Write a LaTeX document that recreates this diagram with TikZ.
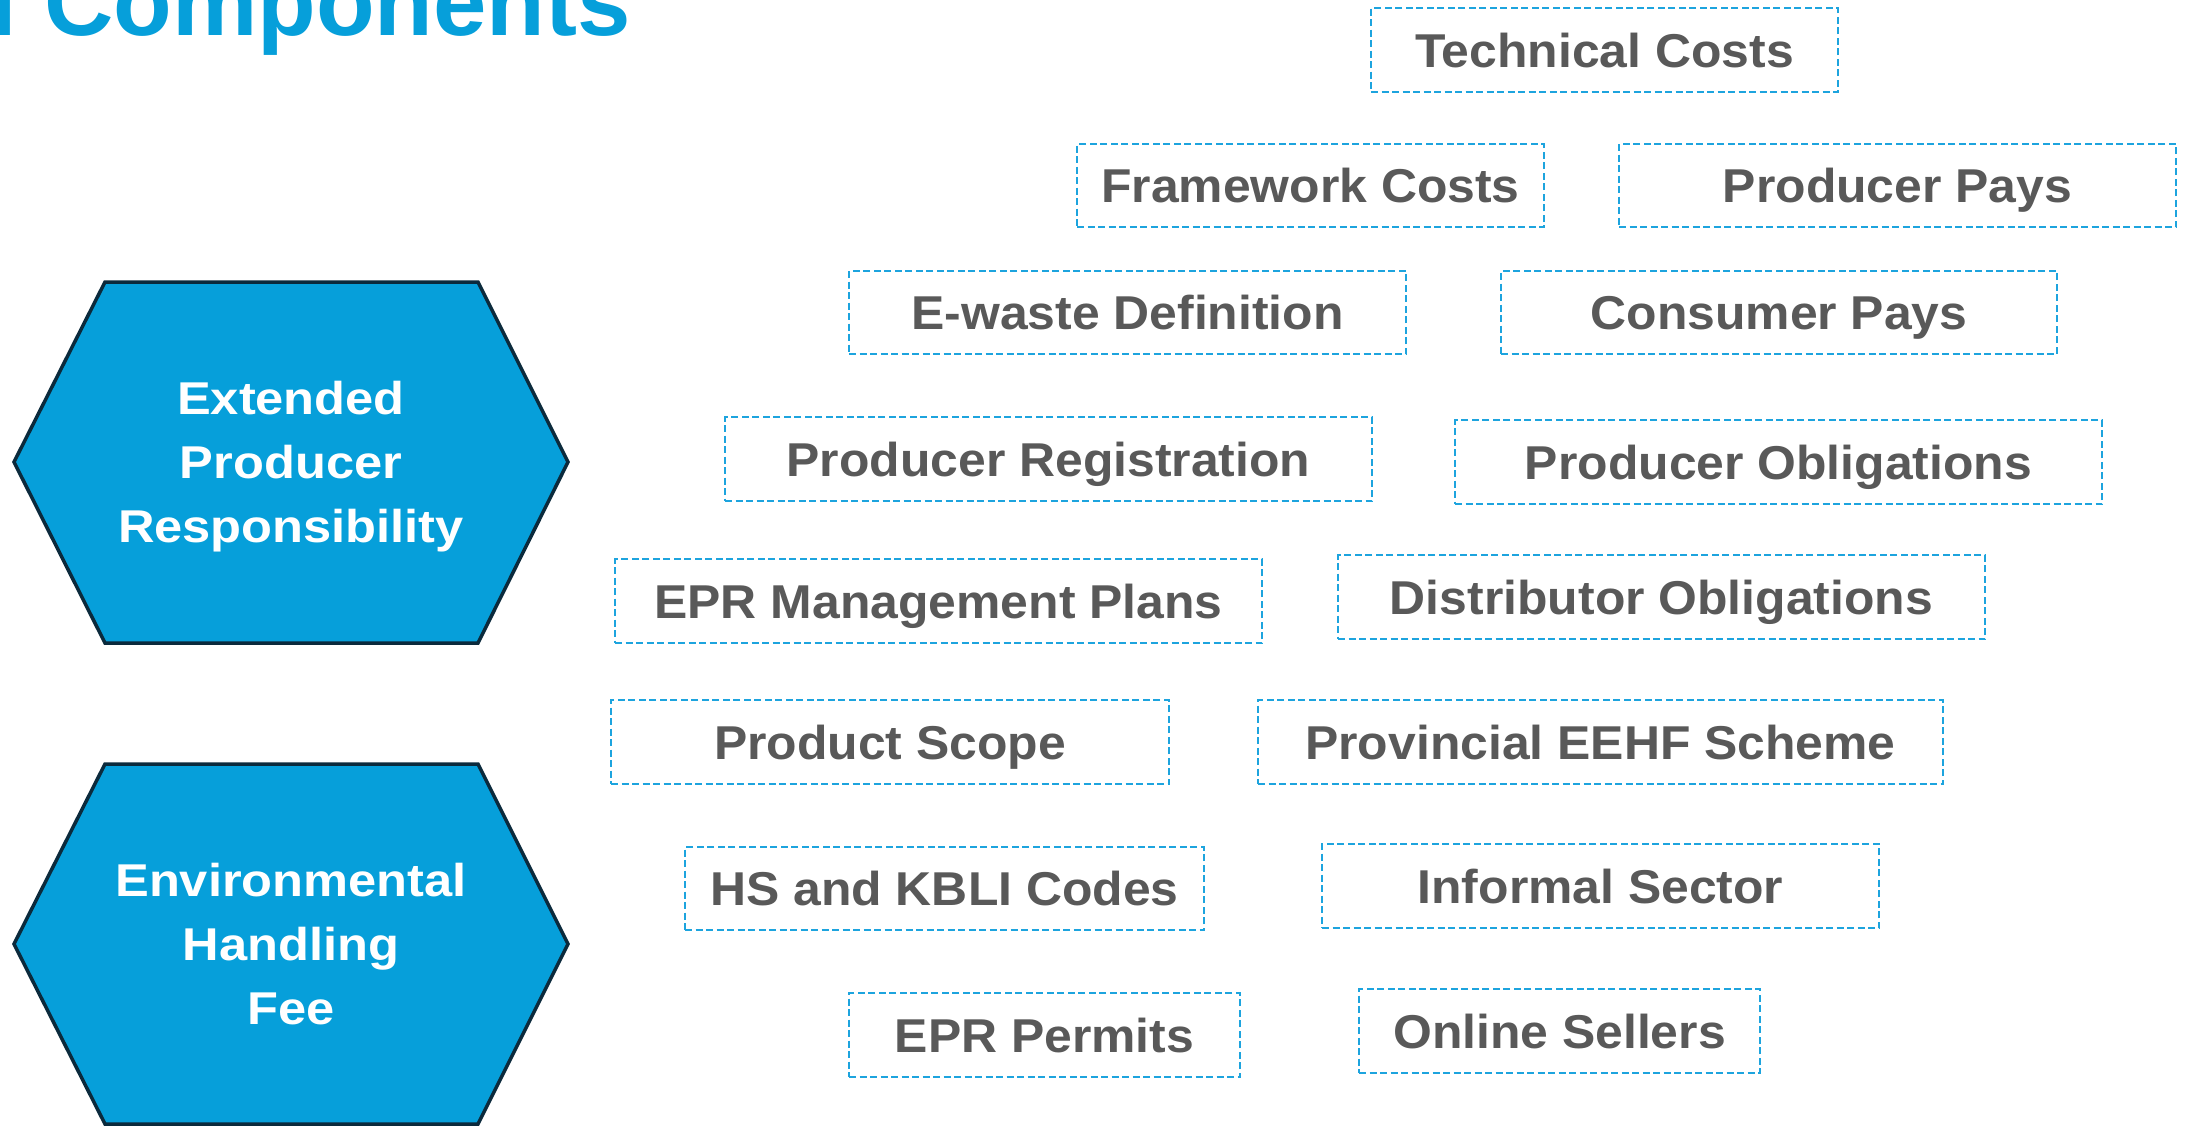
\documentclass[tikz,border=0pt]{standalone}
\usepackage{fontspec}
\newfontfamily\boxfont[FakeStretch=1.05]{Liberation Sans}
\newfontfamily\hexfont[FakeStretch=1.1]{Liberation Sans}
\newfontfamily\titlefont{Liberation Sans}
\definecolor{hexblue}{HTML}{069FDA}
\definecolor{hexborder}{HTML}{0B2A3C}
\definecolor{boxline}{HTML}{1DA4DE}
\definecolor{textgray}{HTML}{595959}
\begin{document}
\begin{tikzpicture}[x=1pt,y=-1pt,
  compbox/.style={draw=boxline, dash pattern=on 7pt off 3.5pt, line width=2pt,
    inner sep=0pt, text=textgray,
    font=\boxfont\bfseries\fontsize{47.5}{57}\selectfont,
    text height=34pt, text depth=0pt},
  hexshape/.style={fill=hexblue, draw=hexborder, line width=3.5pt, line join=miter},
  hextext/.style={align=center, text=white, inner sep=0pt,
    font=\hexfont\bfseries\fontsize{46}{64}\selectfont, text depth=0pt},
  titletext/.style={text=hexblue, inner sep=0pt,
    font=\titlefont\bfseries\fontsize{96}{110}\selectfont}]
\useasboundingbox (0,0) rectangle (2187,1127);
\clip (0,0) rectangle (2187,1127);
\fill[white] (0,0) rectangle (2187,1127);

% title (partially cut)
\node[titletext, anchor=base east] (title) at (631,35) {l Components};

% hexagons
\draw[hexshape] (14,462) -- (105,282) -- (478,282) -- (568,462) -- (478,643) -- (105,643) -- cycle;
\node[hextext] (epr) at (291,462) {Extended\\Producer\\Responsibility};
\draw[hexshape] (14,944) -- (105,764) -- (478,764) -- (568,944) -- (478,1124) -- (105,1124) -- cycle;
\node[hextext] (ehf) at (291,944) {Environmental\\Handling\\Fee};

% component boxes
\node[compbox, minimum width=467pt, minimum height=84pt] (tech) at (1604.5,50) {Technical Costs};
\node[compbox, minimum width=467pt, minimum height=83pt] (frame) at (1310.5,185.5) {Framework Costs};
\node[compbox, minimum width=557pt, minimum height=83pt] (ppays) at (1897.5,185.5) {Producer Pays};
\node[compbox, minimum width=557pt, minimum height=83pt] (ewaste) at (1127.5,312.5) {E-waste Definition};
\node[compbox, minimum width=556pt, minimum height=83pt] (cpays) at (1779,312.5) {Consumer Pays};
\node[compbox, minimum width=647pt, minimum height=84pt] (preg) at (1048.5,459) {Producer Registration};
\node[compbox, minimum width=647pt, minimum height=84pt] (pobl) at (1778.5,462) {Producer Obligations};
\node[compbox, minimum width=647pt, minimum height=84pt] (eprmp) at (938.5,601) {EPR Management Plans};
\node[compbox, minimum width=647pt, minimum height=84pt] (dobl) at (1661.5,597) {Distributor Obligations};
\node[compbox, minimum width=558pt, minimum height=84pt] (pscope) at (890,742) {Product Scope};
\node[compbox, minimum width=685pt, minimum height=84pt] (eehf) at (1600.5,742) {Provincial EEHF Scheme};
\node[compbox, minimum width=519pt, minimum height=83pt] (hs) at (944.5,888.5) {HS and KBLI Codes};
\node[compbox, minimum width=557pt, minimum height=84pt] (inf) at (1600.5,886) {Informal Sector};
\node[compbox, minimum width=391pt, minimum height=84pt] (permits) at (1044.5,1035) {EPR Permits};
\node[compbox, minimum width=401pt, minimum height=84pt] (online) at (1559.5,1031) {Online Sellers};
\end{tikzpicture}
\end{document}
